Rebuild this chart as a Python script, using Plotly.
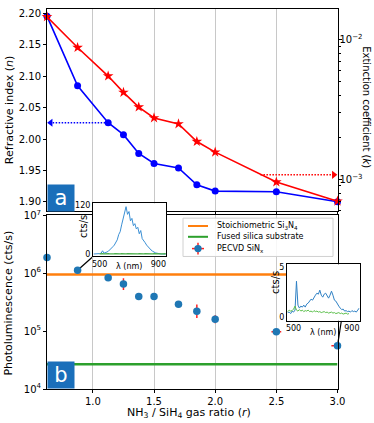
import plotly.graph_objects as go
import math

# ---------------- data ----------------
r_ratio = [0.625, 0.875, 1.125, 1.25, 1.375, 1.5, 1.7, 1.85, 2.0, 2.5, 3.0]
n_index = [2.196, 2.085, 2.026, 2.007, 1.977, 1.961, 1.954, 1.927, 1.917, 1.916, 1.900]
k_ext = [0.0146, 0.0088, 0.0055, 0.0042, 0.0033, 0.00276, 0.0025, 0.00187, 0.00157, 0.00096, 0.0007]
pl_counts = [1.87e6, 1.12e6, 8.3e5, 6.5e5, 3.95e5, 3.95e5, 2.9e5, 2.2e5, 1.6e5, 9.7e4, 5.6e4]
pl_err_plus = [0, 0, 0, 1.7e5, 0, 0, 0, 6.8e4, 2.7e4, 1.1e4, 7e3]
pl_err_minus = [0, 0, 0, 1.36e5, 0, 0, 0, 5.2e4, 2.3e4, 1.0e4, 6e3]
r_err = [0, 0, 0, 0, 0, 0, 0, 0, 0, 0.04, 0.05]
pl_si3n4 = 9.5e5
pl_silica = 2.68e4
arrow_n = 2.026          # n marked by the blue arrow (at r = 1.125)
arrow_k_r = 2.37         # start of the red arrow
arrow_k = 0.00108        # k marked by the red arrow

wl = [460, 470, 480, 490, 500, 510, 520, 530, 540, 550, 560, 570, 580, 590, 600, 610, 620,
      630, 640, 650, 660, 670, 680, 690, 700, 710, 720, 730, 740, 750, 760, 770, 780, 790,
      800, 810, 820, 830, 840, 850, 860, 870, 880, 890, 900, 910, 920, 930, 940, 950]
spec1_film = [0, 0, 0, 0, 1, 2, 8, 2, 3, 5, 7, 10, 13, 18, 22, 30, 35, 48, 55, 72, 85, 100,
              117, 98, 105, 82, 88, 70, 75, 62, 66, 50, 58, 38, 34, 28, 22, 18, 12, 10, 7, 4,
              3, 2, 1, 0, 0, 0, 0, 0]
spec1_sub = [0.5, 1, 0.3, 0.8, 0.4, 1.1, 0.6, 0.2, 0.9, 0.5, 0.7, 0.3, 1.0, 0.4, 0.6, 0.8,
             0.2, 0.7, 0.5, 0.9, 0.3, 0.6, 0.4, 0.8, 0.5, 0.2, 0.7, 0.4, 0.6, 0.3, 0.5, 0.8,
             0.2, 0.6, 0.4, 0.7, 0.3, 0.5, 0.6, 0.2, 0.4, 0.7, 0.3, 0.5, 0.4, 0.6, 0.3, 0.5,
             0.4, 0.6]
spec2_film = [0.45, 0.5, 0.35, 0.6, 0.5, 0.7, 3.6, 1.2, 0.9, 1.1, 1.0, 1.2, 1.0, 1.3, 1.4, 1.6,
              1.8, 1.7, 2.0, 2.2, 2.4, 2.3, 2.7, 2.2, 2.0, 2.3, 2.4, 2.1, 1.9, 2.2, 2.6, 2.2,
              1.7, 1.6, 1.3, 1.1, 0.9, 0.75, 0.8, 0.6, 0.65, 0.55, 0.6, 0.5, 0.65, 0.55, 0.6,
              0.5, 0.7, 0.9]
spec2_sub = [0.55, 0.7, 0.6, 0.65, 0.8, 1.1, 0.7, 0.6, 0.75, 0.6, 0.7, 0.55, 0.65, 0.6, 0.7,
             0.55, 0.6, 0.5, 0.65, 0.55, 0.6, 0.5, 0.55, 0.45, 0.5, 0.55, 0.45, 0.5, 0.4, 0.45,
             0.5, 0.4, 0.45, 0.35, 0.4, 0.45, 0.35, 0.4, 0.3, 0.35, 0.4, 0.3, 0.35]

# ---------------- geometry ----------------
W, H = 374, 423
ML, MR, MT, MB = 47, 10, 2, 34
PW, PH = W - ML - MR, H - MT - MB


def px(x):
    return (x - ML) / PW


def py(y):
    return (H - MB - y) / PH


XD = [0, px(337.5)]
TOP = [py(208), 1]
BOT = [0, py(212)]
IN1X, IN1Y = [px(93), px(166)], [py(254), py(200)]
IN2X, IN2Y = [px(287), px(359.5)], [py(319.5), py(262)]
XR = [r_ratio[0], r_ratio[-1]]
NR = [1.8848, 2.2074]
KR = [-3.227, -1.780]
PLR = [4, 7]

FONT = "DejaVu Sans"
BLUE_TAB = "#1f77b4"
ORANGE = "#ff7f0e"
GREEN = "#2ca02c"

fig = go.Figure()

# ---------------- top panel ----------------
fig.add_trace(go.Scatter(x=r_ratio, y=n_index, mode="lines+markers", xaxis="x", yaxis="y",
                         line=dict(color="#0000ff", width=1.6),
                         marker=dict(color="#0000ff", size=7), cliponaxis=False, showlegend=False))
fig.add_trace(go.Scatter(x=[r_ratio[2], XR[0] + 0.03], y=[arrow_n, arrow_n], mode="lines",
                         xaxis="x", yaxis="y", line=dict(color="#0000ff", width=1.5, dash="1.5px,1.5px"),
                         showlegend=False))
fig.add_trace(go.Scatter(x=[XR[0] + 0.03], y=[arrow_n], mode="markers", xaxis="x", yaxis="y",
                         marker=dict(symbol="triangle-left", size=7, color="#0000ff"),
                         cliponaxis=False, showlegend=False))
fig.add_trace(go.Scatter(x=r_ratio, y=k_ext, mode="lines+markers", xaxis="x", yaxis="y2",
                         line=dict(color="#ff0000", width=1.6),
                         marker=dict(color="#ff0000", size=8, symbol="star"), cliponaxis=False,
                         showlegend=False))
fig.add_trace(go.Scatter(x=[arrow_k_r, XR[1] - 0.03], y=[arrow_k, arrow_k], mode="lines",
                         xaxis="x", yaxis="y2", line=dict(color="#ff0000", width=1.5, dash="1.5px,1.5px"),
                         showlegend=False))
fig.add_trace(go.Scatter(x=[XR[1] - 0.03], y=[arrow_k], mode="markers", xaxis="x", yaxis="y2",
                         marker=dict(symbol="triangle-right", size=7, color="#ff0000"),
                         cliponaxis=False, showlegend=False))

# ---------------- bottom panel ----------------
fig.add_trace(go.Scatter(x=XR, y=[pl_si3n4, pl_si3n4], mode="lines", xaxis="x2", yaxis="y3",
                         line=dict(color=ORANGE, width=2.5), showlegend=False))
fig.add_trace(go.Scatter(x=XR, y=[pl_silica, pl_silica], mode="lines", xaxis="x2", yaxis="y3",
                         line=dict(color=GREEN, width=2.5), showlegend=False))
fig.add_trace(go.Scatter(x=r_ratio, y=pl_counts, mode="markers", xaxis="x2", yaxis="y3",
                         marker=dict(color=BLUE_TAB, size=7.5),
                         error_y=dict(type="data", array=pl_err_plus, arrayminus=pl_err_minus,
                                      color="#ff2020", thickness=1.5, width=0),
                         error_x=dict(type="data", array=r_err, color="#ff2020", thickness=1.5, width=0),
                         cliponaxis=False, showlegend=False))

# ---------------- insets ----------------
fig.add_trace(go.Scatter(x=wl, y=spec1_film, mode="lines", xaxis="x3", yaxis="y4",
                         line=dict(color="#3a8fd4", width=1), showlegend=False))
fig.add_trace(go.Scatter(x=wl[4:], y=spec1_sub[4:], mode="lines", xaxis="x3", yaxis="y4",
                         line=dict(color="#4cb04c", width=1.3), showlegend=False))
fig.add_trace(go.Scatter(x=wl, y=spec2_film, mode="lines", xaxis="x4", yaxis="y5",
                         line=dict(color="#2f80c4", width=1), showlegend=False))
fig.add_trace(go.Scatter(x=wl[:len(spec2_sub)], y=spec2_sub, mode="lines", xaxis="x4", yaxis="y5",
                         line=dict(color="#5cbf4c", width=1), showlegend=False))

tickfont = dict(family=FONT, size=10, color="black")
axcommon = dict(showline=True, linecolor="black", linewidth=1, ticks="outside", ticklen=3,
                tickcolor="black", zeroline=False, tickfont=tickfont)
grid = dict(showgrid=True, gridcolor="#c8c8c8", gridwidth=1)
xticks = [1.0, 1.5, 2.0, 2.5, 3.0]

insetax = dict(showline=True, linecolor="black", linewidth=1, mirror=True, ticks="", zeroline=False,
               showgrid=False, tickfont=dict(family=FONT, size=8, color="black"))

layout = dict(
    width=W, height=H, margin=dict(l=ML, r=MR, t=MT, b=MB),
    paper_bgcolor="white", plot_bgcolor="white", showlegend=False,
    font=dict(family=FONT, color="black"),
    xaxis=dict(domain=XD, anchor="y", range=XR, tickvals=xticks, showticklabels=False,
               mirror=True, **grid, **axcommon),
    yaxis=dict(domain=TOP, anchor="x", range=NR, tickvals=[1.90, 1.95, 2.00, 2.05, 2.10, 2.15, 2.20],
               tickformat=".2f", showgrid=False, **axcommon),
    yaxis2=dict(overlaying="y", side="right", anchor="x", type="log", range=KR,
                tickvals=[1e-3, 1e-2], ticktext=["10<sup>\u22123</sup>", "10<sup>\u22122</sup>"],
                ticklabelstandoff=-4,
                minor=dict(tickvals=[6e-4, 7e-4, 8e-4, 9e-4, 2e-3, 3e-3, 4e-3, 5e-3, 6e-3, 7e-3, 8e-3, 9e-3, 2e-2],
                           ticks="outside", ticklen=2, tickcolor="black"),
                showgrid=False, **axcommon),
    xaxis2=dict(domain=XD, anchor="y3", range=XR, tickvals=xticks, tickformat=".1f",
                mirror=True, **grid, **axcommon),
    yaxis3=dict(domain=BOT, anchor="x2", type="log", range=PLR, tickvals=[1e4, 1e5, 1e6, 1e7],
                ticktext=["10<sup>4</sup>", "10<sup>5</sup>", "10<sup>6</sup>", "10<sup>7</sup>"],
                mirror=True, showgrid=False, **axcommon),
    xaxis3=dict(domain=IN1X, anchor="y4", range=[455, 952], tickvals=[500, 900], **insetax),
    yaxis4=dict(domain=IN1Y, anchor="x3", range=[-6, 125], tickvals=[0, 120], **insetax),
    xaxis4=dict(domain=IN2X, anchor="y5", range=[455, 952], tickvals=[500, 900], **insetax),
    yaxis5=dict(domain=IN2Y, anchor="x4", range=[-0.37, 5.3], tickvals=[0, 5], **insetax),
)
fig.update_layout(**layout)


# ---------------- connectors (paper coords computed from data) ----------------
def data_to_paper_bottom(xv, yv):
    xp = XD[0] + (xv - XR[0]) / (XR[1] - XR[0]) * (XD[1] - XD[0])
    yp = BOT[0] + (math.log10(yv) - PLR[0]) / (PLR[1] - PLR[0]) * (BOT[1] - BOT[0])
    return xp, yp


shapes = []
p1 = data_to_paper_bottom(r_ratio[1], pl_counts[1])
shapes.append(dict(type="line", xref="paper", yref="paper", x0=p1[0], y0=p1[1], x1=IN1X[0], y1=IN1Y[0],
                   line=dict(color="black", width=1.2), layer="below"))
p2 = data_to_paper_bottom(r_ratio[-1], pl_counts[-1])
shapes.append(dict(type="line", xref="paper", yref="paper", x0=p2[0], y0=p2[1],
                   x1=IN2X[0] + 0.75 * (IN2X[1] - IN2X[0]), y1=IN2Y[0],
                   line=dict(color="black", width=1.2), layer="below"))

# ---------------- legend (drawn manually) ----------------
shapes.append(dict(type="rect", xref="paper", yref="paper", x0=px(183), x1=px(333), y0=py(254), y1=py(215),
                   fillcolor="rgba(255,255,255,0.85)", line=dict(color="#d0d0d0", width=1), layer="above"))
shapes.append(dict(type="line", xref="paper", yref="paper", x0=px(188), x1=px(208), y0=py(223), y1=py(223),
                   line=dict(color=ORANGE, width=2), layer="above"))
shapes.append(dict(type="line", xref="paper", yref="paper", x0=px(188), x1=px(208), y0=py(234), y1=py(234),
                   line=dict(color=GREEN, width=2), layer="above"))
shapes.append(dict(type="line", xref="paper", yref="paper", x0=px(192), x1=px(204), y0=py(246), y1=py(246),
                   line=dict(color="#ff2020", width=1.5), layer="above"))
shapes.append(dict(type="line", xref="paper", yref="paper", x0=px(198), x1=px(198), y0=py(240), y1=py(252),
                   line=dict(color="#ff2020", width=1.5), layer="above"))
shapes.append(dict(type="circle", xref="paper", yref="paper", x0=px(194.3), x1=px(201.7), y0=py(249.7),
                   y1=py(242.3), fillcolor=BLUE_TAB, line=dict(color=BLUE_TAB, width=0), layer="above"))

ann = []
lf = dict(family=FONT, size=8, color="black")
for txt, yy in [("Stoichiometric Si<sub>3</sub>N<sub>4</sub>", 223), ("Fused silica substrate", 234),
                ("PECVD SiN<sub>x</sub>", 246)]:
    ann.append(dict(text=txt, xref="paper", yref="paper", x=px(215), y=py(yy), xanchor="left",
                    yanchor="middle", showarrow=False, font=lf))

# panel labels
for lab, yc in [("a", 194), ("b", 375)]:
    ann.append(dict(text=lab, xref="paper", yref="paper", x=px(60.5), y=py(yc), xanchor="center",
                    yanchor="middle", showarrow=False, bgcolor="#1a6fba", width=26, height=26,
                    borderpad=0, font=dict(family=FONT, size=21, color="white")))

tf = dict(family=FONT, size=11, color="black")
ann.append(dict(text="Refractive index (<i>n</i>)", xref="paper", yref="paper", x=px(9), y=py(105),
                textangle=-90, showarrow=False, font=tf, xanchor="center", yanchor="middle"))
ann.append(dict(text="Photoluminescence (cts/s)", xref="paper", yref="paper", x=px(9), y=py(302),
                textangle=-90, showarrow=False, font=tf, xanchor="center", yanchor="middle"))
ann.append(dict(text="Extinction coefficient (<i>k</i>)", xref="paper", yref="paper", x=px(367), y=py(102),
                textangle=90, showarrow=False, font=dict(family=FONT, size=10, color="black"),
                xanchor="center", yanchor="middle"))
ann.append(dict(text="NH<sub>3</sub> / SiH<sub>4</sub> gas ratio (<i>r</i>)", xref="paper", yref="paper",
                x=px(189), y=py(413), showarrow=False, font=tf, xanchor="center", yanchor="middle"))
# inset axis labels
sf = dict(family=FONT, size=10, color="black")
lam = dict(family=FONT, size=8, color="black")
ann.append(dict(text="cts/s", xref="paper", yref="paper", x=px(84), y=py(224), textangle=-90,
                showarrow=False, font=sf, xanchor="center", yanchor="middle"))
ann.append(dict(text="cts/s", xref="paper", yref="paper", x=px(276), y=py(281), textangle=-90,
                showarrow=False, font=sf, xanchor="center", yanchor="middle"))
ann.append(dict(text="\u03bb (nm)", xref="paper", yref="paper", x=px(129), y=py(264),
                showarrow=False, font=lam, xanchor="center", yanchor="middle"))
ann.append(dict(text="\u03bb (nm)", xref="paper", yref="paper", x=px(323), y=py(331),
                showarrow=False, font=lam, xanchor="center", yanchor="middle"))

fig.update_layout(shapes=shapes, annotations=ann)
fig.write_html("out.html", config={"displayModeBar": False},
               post_script="document.body.style.margin='0px';document.body.style.padding='0px';")
